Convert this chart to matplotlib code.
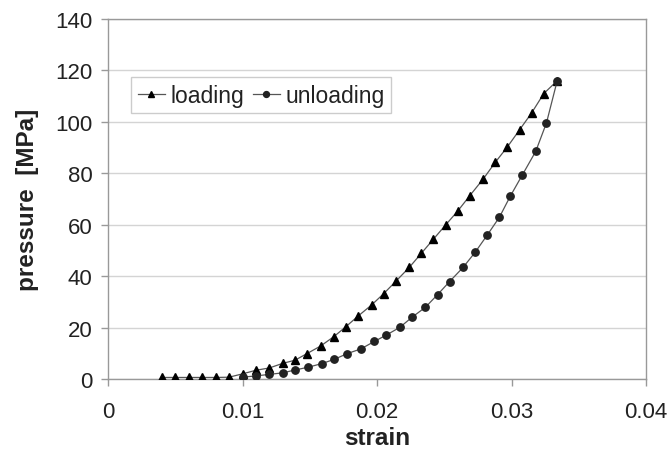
import numpy as np
import matplotlib
matplotlib.use("Agg")
import matplotlib.pyplot as plt

plt.rcParams['font.family'] = ['Liberation Sans', 'DejaVu Sans']

# loading branch (strain, pressure MPa)
load_strain = [0.0040, 0.0050, 0.0060, 0.0070, 0.0080, 0.0090, 0.0100, 0.0110,
               0.0120, 0.0130, 0.0139, 0.0148, 0.0158, 0.0168, 0.0177, 0.0186,
               0.0196, 0.0205, 0.0214, 0.0224, 0.0233, 0.0242, 0.0251, 0.0260,
               0.0269, 0.0279, 0.0288, 0.0297, 0.0306, 0.0315, 0.0324, 0.0334]
load_press = [0.6, 0.6, 0.6, 0.6, 0.6, 0.7, 2.0, 3.4,
              4.3, 6.1, 7.3, 9.9, 12.8, 16.5, 20.4, 24.5,
              28.8, 33.2, 38.0, 43.4, 48.9, 54.4, 59.9, 65.3,
              71.3, 77.8, 84.3, 90.3, 96.9, 103.5, 111.0, 116.0]

# unloading branch
unload_strain = [0.0334, 0.0326, 0.0318, 0.0308, 0.0299, 0.0291, 0.0282, 0.0273,
                 0.0264, 0.0254, 0.0245, 0.0236, 0.0226, 0.0217, 0.0207, 0.0198,
                 0.0188, 0.0178, 0.0168, 0.0159, 0.0149, 0.0139, 0.0130, 0.0120,
                 0.0110, 0.0100]
unload_press = [116.0, 99.6, 88.5, 79.3, 71.0, 62.9, 56.0, 49.3,
                43.4, 37.9, 32.8, 27.9, 24.0, 20.1, 17.1, 14.6,
                11.7, 9.9, 7.6, 6.0, 4.6, 3.5, 2.4, 1.8,
                1.2, 0.7]

xticks = [0, 0.01, 0.02, 0.03, 0.04]
xticklabels = ['0', '0.01', '0.02', '0.03', '0.04']
yticks = [0, 20, 40, 60, 80, 100, 120, 140]

W, H = 669, 456
fig = plt.figure(figsize=(W/100, H/100), dpi=100)
ax = fig.add_axes([108/W, 1-380/H, (646-108)/W, 360/H])

ax.plot(load_strain, load_press, color='#555555', lw=0.9, marker='^',
        ms=6, mfc='black', mec='black', label='loading', zorder=3)
ax.plot(unload_strain, unload_press, color='#555555', lw=0.9, marker='o',
        ms=5.3, mfc='#222222', mec='#222222', label='unloading', zorder=3)

ax.set_xlim(0, 0.04)
ax.set_ylim(0, 140)
ax.set_xticks(xticks)
ax.set_xticklabels(xticklabels)
ax.set_yticks(yticks)
ax.yaxis.grid(True, color='#d4d4d4', lw=1)
ax.set_axisbelow(True)

for s in ax.spines.values():
    s.set_color('#999999')
    s.set_linewidth(1)
ax.tick_params(axis='both', colors='#999999', labelcolor='#222222',
               labelsize=16, length=5, width=1, direction='out')
ax.tick_params(axis='x', pad=11)
ax.tick_params(axis='y', pad=6)

ax.set_xlabel('strain', fontsize=17.5, fontweight='bold', color='#222222', labelpad=3)
ax.set_ylabel('pressure  [MPa]', fontsize=17.5, fontweight='bold', color='#222222', labelpad=12)

leg = ax.legend(loc='upper left', bbox_to_anchor=(0.043, 0.838), borderaxespad=0,
                ncol=2, fontsize=16.5, handlelength=1.2, handletextpad=0.25,
                columnspacing=0.35, borderpad=0.28, fancybox=False, framealpha=1,
                edgecolor='#cccccc', markerscale=0.8)
leg.get_frame().set_linewidth(1)
for t in leg.get_texts():
    t.set_color('#222222')

fig.savefig('out.png', dpi=100)
